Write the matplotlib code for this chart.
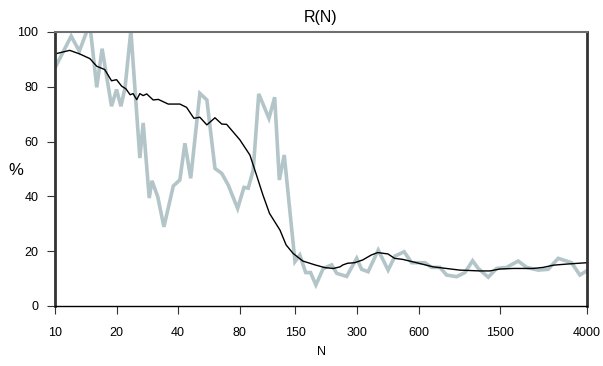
import matplotlib
matplotlib.use("Agg")
import matplotlib.pyplot as plt

plt.rcParams['font.family'] = ['Liberation Sans', 'DejaVu Sans']

# gray (raw) series
raw_n = [10, 12, 13.15, 14.4, 14.8, 16, 17, 18.9, 20, 21, 22, 23.5, 26, 27, 28.9,
         29.8, 31.8, 34.1, 37.9, 40.8, 43.2, 46.1, 51.1, 55.3, 60.6, 65.4, 70.3, 78.2, 84,
         88.1, 93.2, 99.2, 111.3, 118.7, 125.1, 132.2, 149.2, 157.5, 168.4, 177.8,
         188.8, 205.1, 225.5, 238.9, 267, 299, 316, 340, 381, 426, 460, 510,
         555, 645, 695, 763, 823, 921, 1011, 1103, 1175, 1315, 1445, 1617, 1843,
         2026, 2309, 2584, 2892, 3178, 3362, 3692, 4000]
raw_v = [86.9, 98.5, 93, 100.8, 103, 79.8, 93.9, 72.9, 79, 72.9, 79.6, 100.5, 54, 66.8, 39.4,
         45.7, 39.9, 28.9, 43.8, 46, 59.4, 46.6, 77.6, 75.2, 50.2, 48.4, 44.2, 35.6, 43.3,
         43, 49.6, 77.4, 68.5, 76.2, 46, 55.1, 16.2, 18.6, 12.2, 12.2,
         7.7, 13.7, 15, 11.9, 10.8, 17.4, 13.4, 12.5, 20.4, 13.1, 18.2, 19.8,
         15.8, 15.8, 14.1, 14.1, 11.3, 10.7, 12.2, 16.5, 13.7, 10.5, 13.7, 14.1, 16.4,
         14.1, 13.1, 13.4, 17.4, 16.4, 15.8, 11.3, 12.9]

# black (smoothed) series
smooth_n = [10, 11.8, 13.2, 14.8, 16, 17.5, 18.9, 20, 21.2, 22.2,
            23.3, 24.1, 25.1, 26, 27, 28.1, 30.2, 32, 35.8, 40.8,
            44, 47.8, 51.1, 55.3, 60.6, 65.4, 69.1, 80.1, 89.8, 96.7,
            104, 112, 126, 135, 146, 163, 187, 209, 230, 248,
            256, 270, 292, 320, 352, 379, 425, 458, 503, 586,
            706, 821, 954, 1196, 1340, 1498, 1742, 2182, 2445, 2740,
            3187, 4000]
smooth_v = [92, 93.3, 92, 90.3, 87.5, 86.3, 82.2, 82.6, 80.2, 79.3,
            77.1, 77.5, 75.3, 77.5, 76.8, 77.4, 75.2, 75.4, 73.7, 73.7,
            72.5, 68.5, 68.9, 66.1, 68.7, 66.4, 66.3, 60.7, 55.1, 47.8,
            40.5, 33.8, 27.7, 22.3, 19.2, 16.4, 15, 14, 13.7, 14.3,
            15, 15.6, 15.8, 16.8, 18.6, 19.5, 19, 17.4, 17, 15.8,
            14.3, 13.7, 13.1, 12.8, 12.8, 13.5, 13.7, 13.7, 14.1, 14.9,
            15.3, 15.8]

xticks = [10, 20, 40, 80, 150, 300, 600, 1500, 4000]
yticks = [0, 20, 40, 60, 80, 100]

fig = plt.figure(figsize=(6.03, 3.66), dpi=100)
ax = fig.add_axes([55/603, 1-306/366, 532/603, 274/366])

ax.plot(raw_n, raw_v, color='#b3c5c8', lw=2.6, solid_joinstyle='miter')
ax.plot(smooth_n, smooth_v, color='black', lw=1.0)

ax.set_xscale('log')
ax.set_xlim(10, 4000)
ax.set_ylim(0, 100)
ax.set_xticks(xticks)
ax.set_xticklabels([str(t) for t in xticks])
ax.xaxis.set_minor_locator(matplotlib.ticker.NullLocator())
ax.set_yticks(yticks)
ax.set_yticklabels([str(t) for t in yticks])
ax.tick_params(axis='both', labelsize=9, length=6, width=0.8, color='#333333', pad=6)
ax.tick_params(axis='x', pad=9)

ax.spines['top'].set_color('#6e6e6e')
ax.spines['top'].set_linewidth(1.5)
ax.spines['left'].set_color('#333333')
ax.spines['left'].set_linewidth(2)
ax.spines['right'].set_color('#333333')
ax.spines['right'].set_linewidth(2)
ax.spines['bottom'].set_color('black')
ax.spines['bottom'].set_linewidth(1)

ax.set_title('R(N)', fontsize=11.5, pad=7)
fig.text(8/603, 1-170/366, '%', fontsize=12, ha='left', va='center')
fig.text(322/603, 1-352/366, 'N', fontsize=9, ha='center', va='center')

fig.savefig('out.png', dpi=100)
